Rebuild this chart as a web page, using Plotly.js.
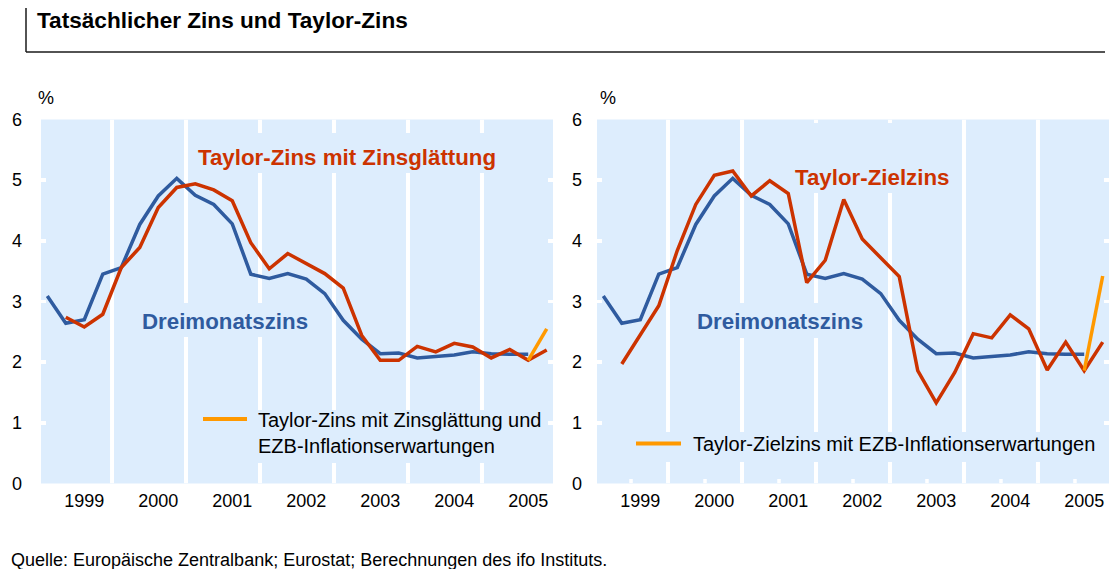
<!DOCTYPE html>
<html>
<head>
<meta charset="utf-8">
<script src="https://cdn.plot.ly/plotly-3.0.1.min.js"></script>
<style>html,body{margin:0;padding:0;background:#fff}#chart{width:1109px;height:569px}</style>
</head>
<body>
<div id="chart"></div>
<script>
// ---------------- data ----------------
const quarters = ['1999Q1','1999Q2','1999Q3','1999Q4','2000Q1','2000Q2','2000Q3','2000Q4',
  '2001Q1','2001Q2','2001Q3','2001Q4','2002Q1','2002Q2','2002Q3','2002Q4',
  '2003Q1','2003Q2','2003Q3','2003Q4','2004Q1','2004Q2','2004Q3','2004Q4',
  '2005Q1','2005Q2','2005Q3','2005Q4'];
const years = ['1999','2000','2001','2002','2003','2004','2005'];

// Dreimonatszins, 1999Q1 - 2005Q3
const dreimonatszins = [3.09, 2.64, 2.70, 3.45, 3.56, 4.27, 4.74, 5.03, 4.75, 4.60, 4.28, 3.45,
  3.38, 3.46, 3.37, 3.13, 2.69, 2.38, 2.14, 2.15, 2.07, 2.09, 2.12, 2.17, 2.14, 2.13, 2.13];
// Taylor-Zins mit Zinsglättung, 1999Q2 - 2005Q4
const taylorGlaettung = [2.74, 2.58, 2.79, 3.56, 3.89, 4.55, 4.88, 4.94, 4.84, 4.66, 3.97,
  3.54, 3.79, 3.63, 3.46, 3.22, 2.44, 2.03, 2.03, 2.26, 2.17, 2.31, 2.25, 2.07, 2.21, 2.03, 2.20];
// Taylor-Zins mit Zinsglättung und EZB-Inflationserwartungen, 2005Q3 - 2005Q4
const taylorGlaettungEZB = [2.03, 2.55];
// Taylor-Zielzins, 1999Q2 - 2005Q4
const taylorZiel = [1.97, 2.45, 2.93, 3.84, 4.60, 5.08, 5.15, 4.74, 4.99, 4.78, 3.31,
  3.68, 4.68, 4.03, 3.72, 3.41, 1.86, 1.33, 1.83, 2.47, 2.40, 2.78, 2.55, 1.87, 2.33, 1.86, 2.33];
// Taylor-Zielzins mit EZB-Inflationserwartungen, 2005Q3 - 2005Q4
const taylorZielEZB = [1.86, 3.42];

// ---------------- helpers ----------------
const qx = q => +q.slice(0,4) + (+q.slice(5) - 0.5) / 4;
const xsFrom = (startQ, n) => { const i = quarters.indexOf(startQ); return quarters.slice(i, i + n).map(qx); };

const W = 1109, H = 569;
const BLUE = '#2F5B9F', RED = '#CC3300', ORANGE = '#FF9900', BG = '#DDEDFD';
const FONT = 'Liberation Sans, Arial, sans-serif';
const XR = [1999.04, 2005.96];
const LDOM = [41, 553], RDOM = [597, 1109];
const YTOP = 119.5, YBOT = 483.5;
const pxX = v => v / W, pxY = v => 1 - v / H;
const ppy = (XR[1] - XR[0]);
const LX = p => XR[0] + (p - LDOM[0]) * ppy / (LDOM[1] - LDOM[0]);
const RX = p => XR[0] + (p - RDOM[0]) * ppy / (RDOM[1] - RDOM[0]);
const YV = p => (YBOT - p) * 6 / (YBOT - YTOP);

function line(x, y, color, xa, ya, name) {
  return {x: x, y: y, type: 'scatter', mode: 'lines', name: name, xaxis: xa, yaxis: ya,
    line: {color: color, width: 3.5}, hoverinfo: 'skip'};
}

const traces = [
  line(xsFrom('1999Q1', dreimonatszins.length), dreimonatszins, BLUE, 'x', 'y', 'Dreimonatszins'),
  line(xsFrom('1999Q2', taylorGlaettung.length), taylorGlaettung, RED, 'x', 'y', 'Taylor-Zins mit Zinsglättung'),
  line(xsFrom('2005Q3', taylorGlaettungEZB.length), taylorGlaettungEZB, ORANGE, 'x', 'y', 'Taylor-Zins mit Zinsglättung und EZB-Inflationserwartungen'),
  line(xsFrom('1999Q1', dreimonatszins.length), dreimonatszins, BLUE, 'x2', 'y2', 'Dreimonatszins'),
  line(xsFrom('1999Q2', taylorZiel.length), taylorZiel, RED, 'x2', 'y2', 'Taylor-Zielzins'),
  line(xsFrom('2005Q3', taylorZielEZB.length), taylorZielEZB, ORANGE, 'x2', 'y2', 'Taylor-Zielzins mit EZB-Inflationserwartungen')
];

// ---------------- shapes ----------------
const shapes = [];
const boundaries = years.slice(1).map(Number);
['x','x2'].forEach((xa, k) => {
  const ya = k === 0 ? 'y' : 'y2';
  boundaries.forEach(b => shapes.push({type: 'line', xref: xa, yref: ya, x0: b, x1: b, y0: 0, y1: 6,
    line: {color: '#FFFFFF', width: 4}, layer: 'below'}));
});
// small white stubs (right panel) at mid-year
years.map(Number).forEach(yr => shapes.push({type: 'line', xref: 'x2', yref: 'y2', x0: yr + 0.5, x1: yr + 0.5,
  y0: 0, y1: YV(479), line: {color: '#FFFFFF', width: 3.5}, layer: 'below'}));

function box(X, xa, ya, x0, x1, y0, y1) {
  shapes.push({type: 'rect', xref: xa, yref: ya, x0: X(x0), x1: X(x1), y0: YV(y1), y1: YV(y0),
    fillcolor: BG, line: {width: 0}, layer: 'below'});
}
box(LX, 'x', 'y', 192, 500, 133, 173);
box(LX, 'x', 'y', 138, 312, 303, 337);
box(LX, 'x', 'y', 197, 549, 410, 463);
box(RX, 'x2', 'y2', 790, 956, 123, 193);
box(RX, 'x2', 'y2', 692, 868, 303, 338);
box(RX, 'x2', 'y2', 630, 1103, 432, 462);
// legend samples
shapes.push({type: 'line', xref: 'x', yref: 'y', x0: LX(203), x1: LX(247), y0: YV(419), y1: YV(419),
  line: {color: ORANGE, width: 4}, layer: 'below'});
shapes.push({type: 'line', xref: 'x2', yref: 'y2', x0: RX(636), x1: RX(681), y0: YV(443.5), y1: YV(443.5),
  line: {color: ORANGE, width: 4}, layer: 'below'});
// header frame
shapes.push({type: 'line', xref: 'paper', yref: 'paper', x0: pxX(26), x1: pxX(26), y0: pxY(8), y1: pxY(52),
  line: {color: '#1a1a1a', width: 1.5}});
shapes.push({type: 'line', xref: 'paper', yref: 'paper', x0: pxX(26), x1: pxX(1105), y0: pxY(52), y1: pxY(52),
  line: {color: '#1a1a1a', width: 1.5}});

// ---------------- annotations ----------------
function ann(text, x, y, opts) {
  return Object.assign({text: text, xref: 'paper', yref: 'paper', x: pxX(x), y: pxY(y),
    xanchor: 'center', yanchor: 'middle', showarrow: false, font: {family: FONT, size: 18, color: '#000'}}, opts || {});
}
const LBL = 22.3, LEG = 20;
const annotations = [
  ann('Taylor-Zins mit Zinsglättung', 347, 157, {font: {family: FONT, size: LBL, color: RED, weight: 'bold'}}),
  ann('Dreimonatszins', 225, 321, {font: {family: FONT, size: LBL, color: BLUE, weight: 'bold'}}),
  ann('Taylor-Zielzins', 872, 177, {font: {family: FONT, size: LBL, color: RED, weight: 'bold'}}),
  ann('Dreimonatszins', 780, 321, {font: {family: FONT, size: LBL, color: BLUE, weight: 'bold'}}),
  ann('Taylor-Zins mit Zinsglättung und<br>EZB-Inflationserwartungen', 256, 433,
      {xanchor: 'left', align: 'left', font: {family: FONT, size: LEG, color: '#000'}}),
  ann('Taylor-Zielzins mit EZB-Inflationserwartungen', 691, 444,
      {xanchor: 'left', align: 'left', font: {family: FONT, size: LEG, color: '#000'}}),
  ann('%', 46, 98, {font: {family: FONT, size: 18, color: '#000'}}),
  ann('%', 608, 98, {font: {family: FONT, size: 18, color: '#000'}}),
  ann('Quelle: Europäische Zentralbank; Eurostat; Berechnungen des ifo Instituts.', 9, 560,
      {xanchor: 'left', font: {family: FONT, size: 18, color: '#000'}})
];

// ---------------- axes ----------------
const tickvals = years.map(y => +y + 0.625);
function xaxis(dom, anchor) {
  return {domain: [pxX(dom[0]), pxX(dom[1])], range: XR, anchor: anchor, tickmode: 'array',
    tickvals: tickvals, ticktext: years, ticks: '', showgrid: false, zeroline: false, showline: false,
    tickfont: {family: FONT, size: 18, color: '#000'}, ticklabelstandoff: 4, fixedrange: true};
}
function yaxis(anchor, standoff) {
  return {domain: [pxY(YBOT), pxY(YTOP)], range: [0, 6], anchor: anchor, tickmode: 'linear', tick0: 0, dtick: 1,
    ticks: 'inside', ticklen: 5, tickwidth: 3.5, tickcolor: '#FFFFFF', mirror: 'ticks',
    showgrid: false, zeroline: false, showline: false,
    tickfont: {family: FONT, size: 18, color: '#000'}, ticklabelstandoff: standoff, fixedrange: true};
}

const layout = {
  width: W, height: H, margin: {l: 0, r: 0, t: 0, b: 0, pad: 0},
  paper_bgcolor: '#FFFFFF', plot_bgcolor: BG, showlegend: false,
  font: {family: FONT, size: 18, color: '#000'},
  title: {text: 'Tatsächlicher Zins und Taylor-Zins', xref: 'paper', yref: 'paper', x: pxX(37), xanchor: 'left',
    y: pxY(20), yanchor: 'middle', font: {family: FONT, size: 22.6, weight: 'bold', color: '#000'}},
  xaxis: xaxis(LDOM, 'y'), yaxis: yaxis('x', 18),
  xaxis2: xaxis(RDOM, 'y2'), yaxis2: yaxis('x2', 14),
  shapes: shapes, annotations: annotations
};

Plotly.newPlot('chart', traces, layout, {staticPlot: true, displayModeBar: false});
</script>
</body>
</html>
